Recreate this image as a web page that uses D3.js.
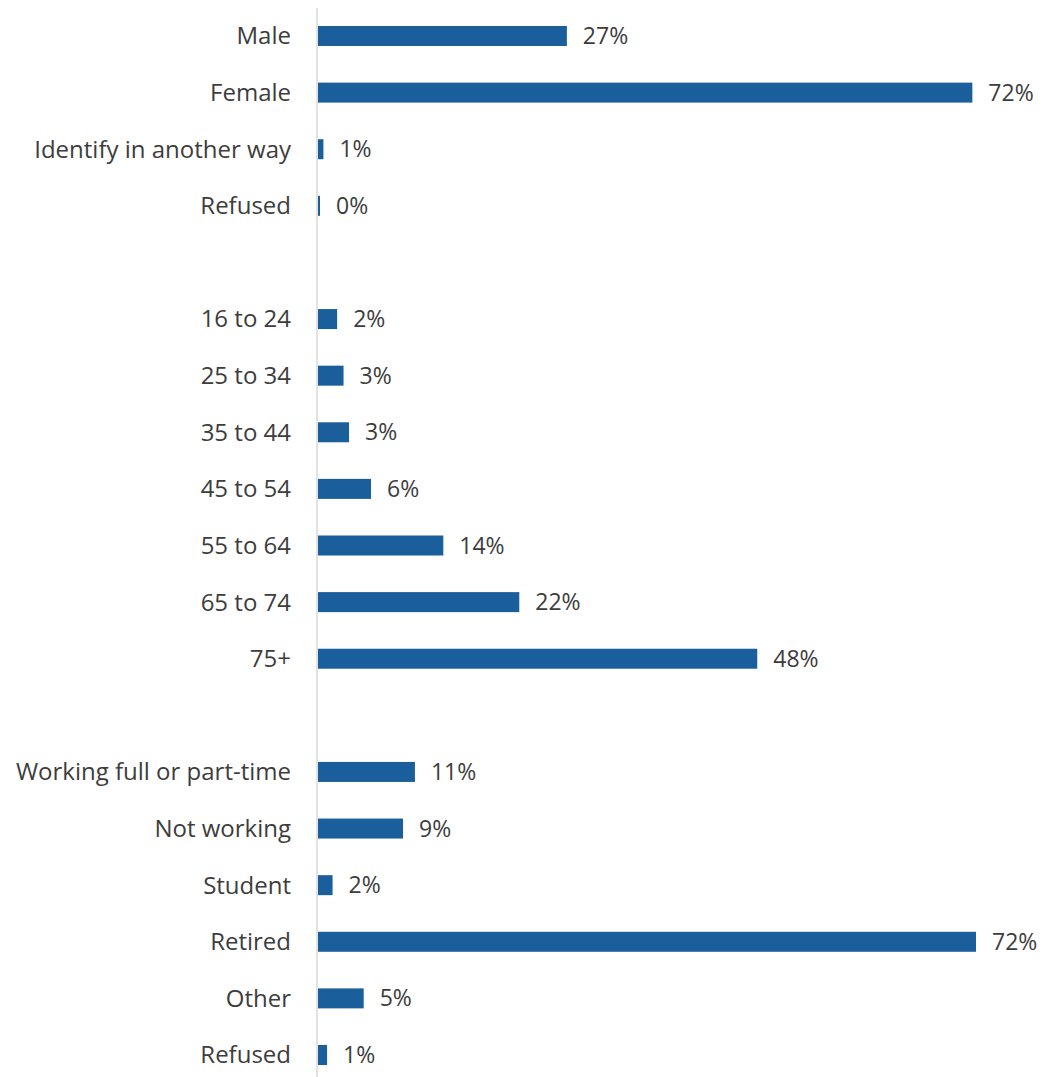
<!DOCTYPE html>
<html>
<head>
<meta charset="utf-8">
<script src="https://cdn.jsdelivr.net/npm/d3@7"></script>
<style>
  body { margin: 0; background: #fff; }
  text { font-family: "Open Sans", sans-serif; fill: #3d3d3d; }
</style>
</head>
<body>
<div id="viz"></div>
<script>
// categories and values (percent), three groups separated by a blank row
var genderLabels = ["Male", "Female", "Identify in another way", "Refused"];
var genderValues = [27.3, 71.6, 0.7, 0.3];
var genderText = ["27%", "72%", "1%", "0%"];

var ageLabels = ["16 to 24", "25 to 34", "35 to 44", "45 to 54", "55 to 64", "65 to 74", "75+"];
var ageValues = [2.2, 2.9, 3.5, 5.9, 13.8, 22.1, 48.1];
var ageText = ["2%", "3%", "3%", "6%", "14%", "22%", "48%"];

var workLabels = ["Working full or part-time", "Not working", "Student", "Retired", "Other", "Refused"];
var workValues = [10.7, 9.4, 1.7, 72.0, 5.1, 1.1];
var workText = ["11%", "9%", "2%", "72%", "5%", "1%"];

var W = 1046, H = 1077;

// build rows with unique keys, blank spacer rows between groups
var rows = [];
function addGroup(g, labels, values, texts) {
  labels.forEach(function(l, i) {
    rows.push({key: g + i, label: l, value: values[i], text: texts[i]});
  });
}
addGroup("g", genderLabels, genderValues, genderText);
rows.push({key: "blank1", blank: true});
addGroup("a", ageLabels, ageValues, ageText);
rows.push({key: "blank2", blank: true});
addGroup("w", workLabels, workValues, workText);

var svg = d3.select("#viz")
  .append("svg")
  .attr("width", W)
  .attr("height", H);

var x = d3.scaleLinear()
  .domain([0, 72])
  .range([317, 976]);

var y = d3.scalePoint()
  .domain(rows.map(function(d) { return d.key; }))
  .range([36, 1055]);

var barH = 20;
var data = rows.filter(function(d) { return !d.blank; });

// vertical axis line
svg.append("line")
  .attr("x1", x(0)).attr("x2", x(0))
  .attr("y1", 8).attr("y2", H)
  .attr("stroke", "#d9d9d9")
  .attr("stroke-width", 1.5);

svg.selectAll(".bar")
  .data(data)
  .enter().append("rect")
  .attr("class", "bar")
  .attr("x", x(0) + 1)
  .attr("y", function(d) { return y(d.key) - barH / 2; })
  .attr("width", function(d) { return Math.max(x(d.value) - x(0) - 1, 2); })
  .attr("height", barH)
  .attr("fill", "#1a5f9c");

// category labels
svg.selectAll(".cat")
  .data(data)
  .enter().append("text")
  .attr("class", "cat")
  .attr("x", 291)
  .attr("y", function(d) { return y(d.key); })
  .attr("dy", "0.35em")
  .attr("text-anchor", "end")
  .style("font-size", "24px")
  .text(function(d) { return d.label; });

// value labels
svg.selectAll(".val")
  .data(data)
  .enter().append("text")
  .attr("class", "val")
  .attr("x", function(d) { return Math.max(x(d.value), x(0) + 3) + 16; })
  .attr("y", function(d) { return y(d.key); })
  .attr("dy", "0.35em")
  .style("font-size", "23px")
  .text(function(d) { return d.text; });
</script>
</body>
</html>
